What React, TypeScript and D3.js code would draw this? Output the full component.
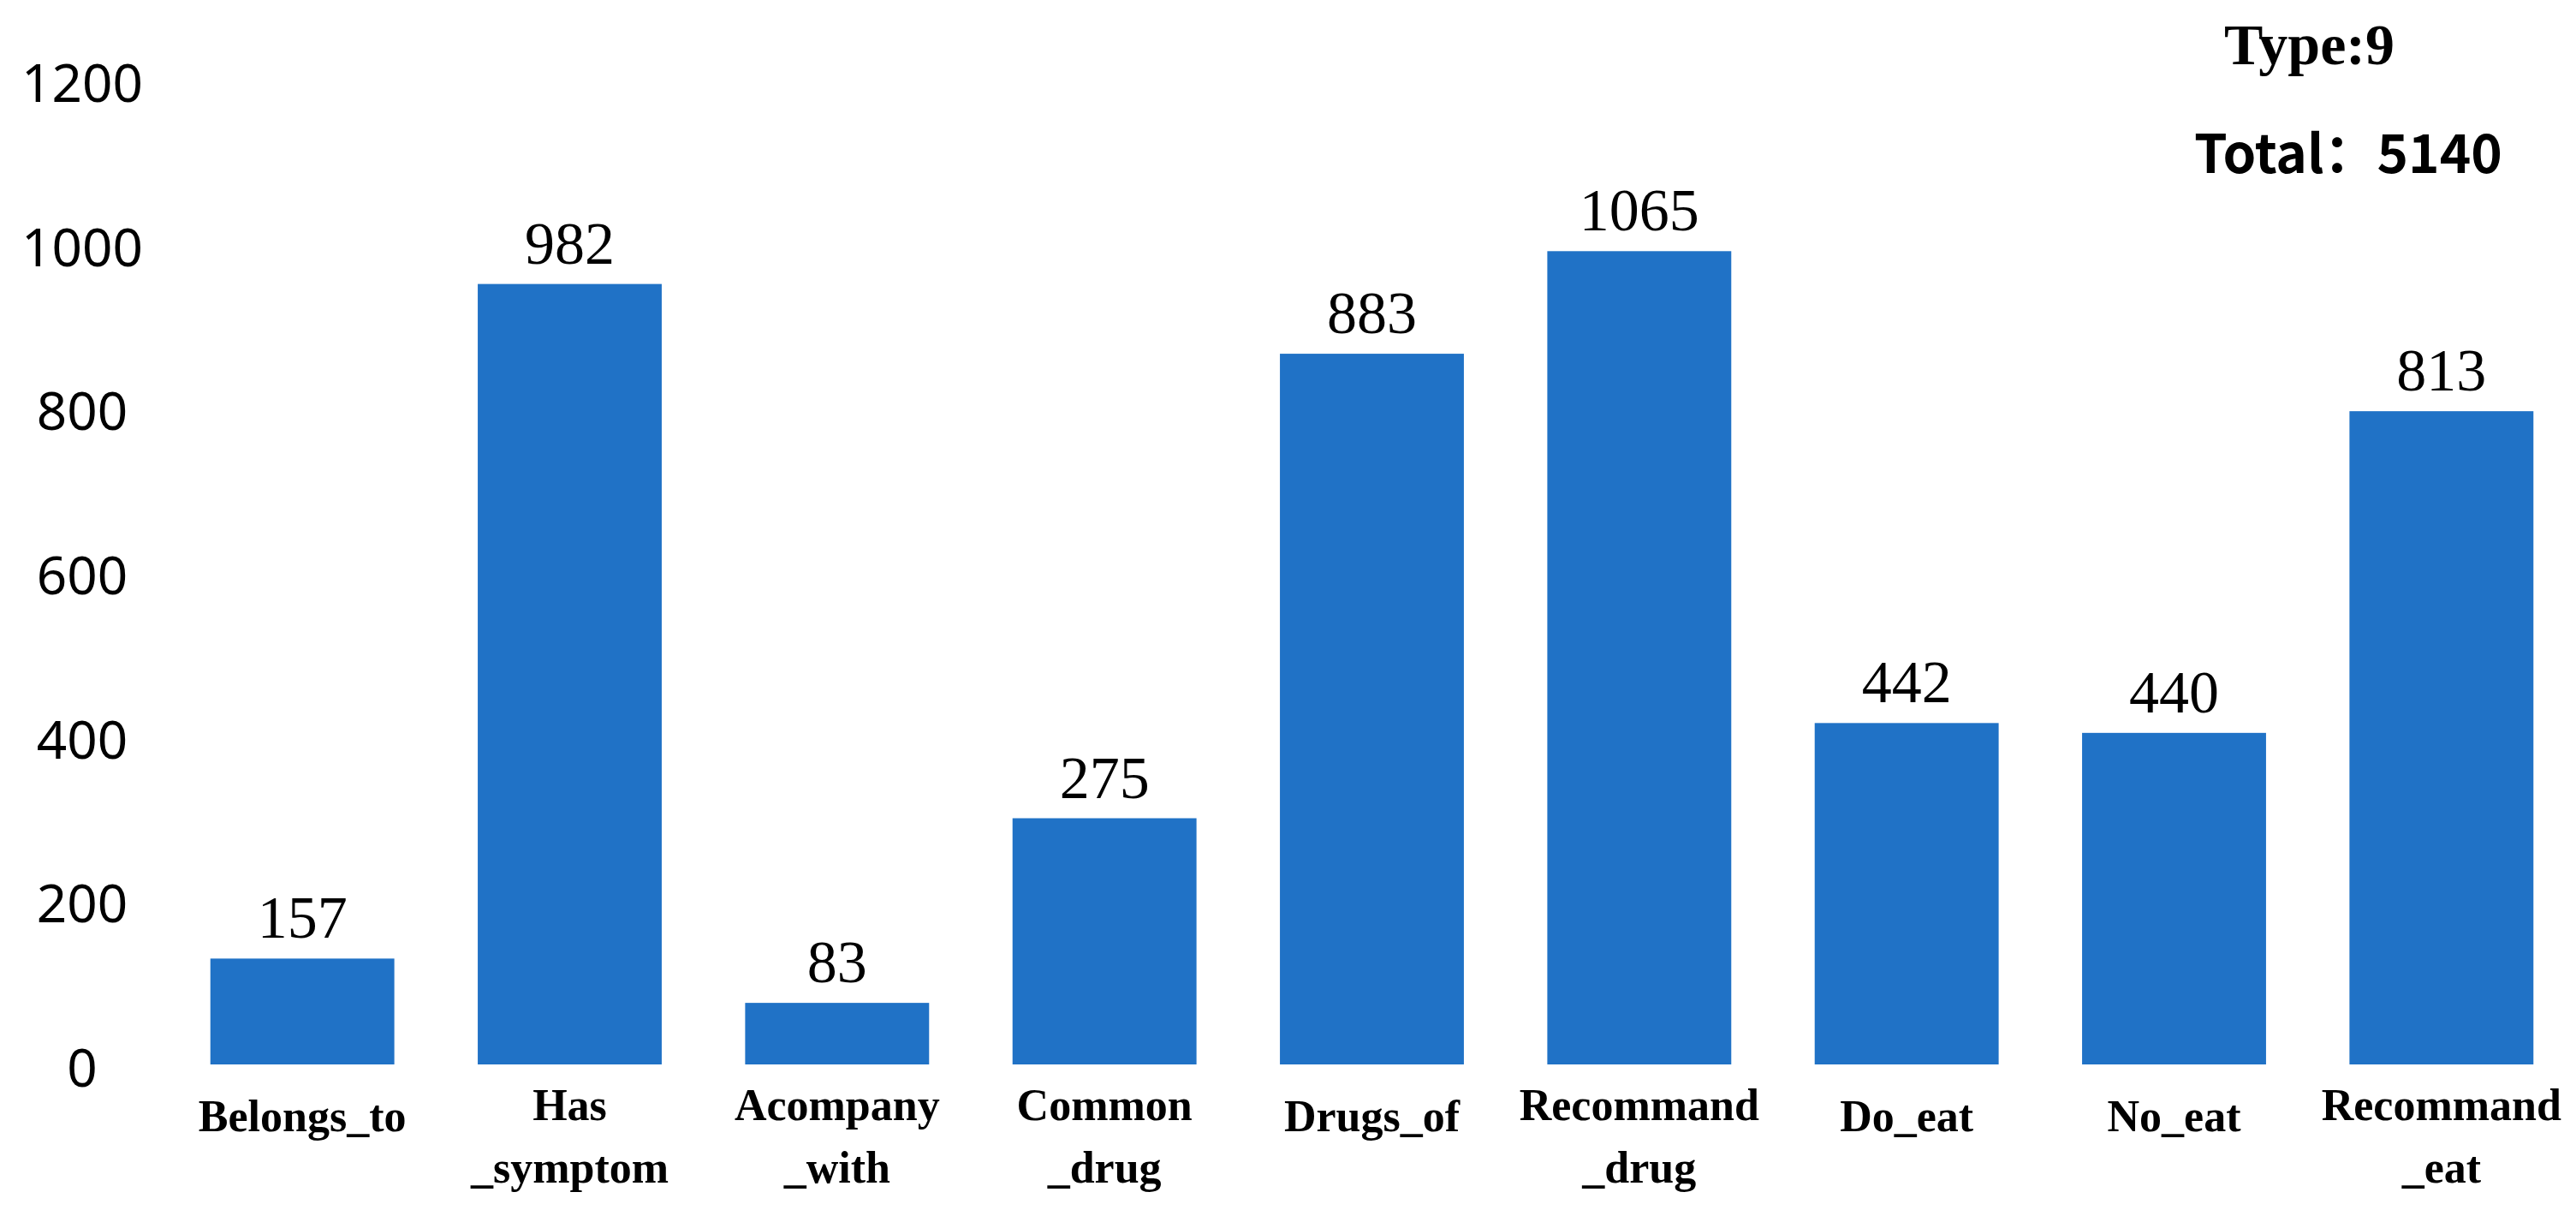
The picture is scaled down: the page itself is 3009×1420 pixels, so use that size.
import React, { useEffect } from "react";
import * as d3 from "d3";

// Categories (two-line labels split with "\n")
const categories = [
  "Belongs_to",
  "Has\n_symptom",
  "Acompany\n_with",
  "Common\n_drug",
  "Drugs_of",
  "Recommand\n_drug",
  "Do_eat",
  "No_eat",
  "Recommand\n_eat",
];
// Bar heights as drawn in the picture (axis units)
const barValues = [129, 951, 75, 300, 866, 991, 416, 404, 796];
// Value labels printed above the bars
const labelValues = [157, 982, 83, 275, 883, 1065, 442, 440, 813];
const yTicks = [0, 200, 400, 600, 800, 1000, 1200];
const typeText = "Type:9";
const totalText = "Total\uFF1A5140";

const W = 3009;
const H = 1420;

export default function App() {
  useEffect(() => {
    document.body.style.margin = "0";
  }, []);

  const x = d3
    .scaleBand<string>()
    .domain(categories)
    .range([197, 3008])
    .paddingInner(0.312)
    .paddingOuter(0.156);
  const y = d3.scaleLinear().domain([0, 1200]).range([1243, 93]);

  const blue = "#2072C6";

  return (
    <svg width={W} height={H} style={{ display: "block", background: "#fff" }}>
      <rect x={0} y={0} width={W} height={H} fill="#fff" />
      {/* y tick labels */}
      {yTicks.map((t) => (
        <text
          key={t}
          x={96}
          y={y(t) + 2}
          textAnchor="middle"
          dominantBaseline="central"
          fontFamily="'Noto Sans', 'Open Sans', sans-serif"
          fontSize={62}
          fill="#000"
        >
          {t}
        </text>
      ))}
      {/* bars */}
      {categories.map((c, i) => (
        <rect
          key={c}
          x={x(c)}
          y={y(barValues[i])}
          width={x.bandwidth()}
          height={y(0) - y(barValues[i])}
          fill={blue}
        />
      ))}
      {/* value labels */}
      {categories.map((c, i) => (
        <text
          key={"v" + c}
          x={(x(c) as number) + x.bandwidth() / 2}
          y={y(barValues[i]) - 24}
          textAnchor="middle"
          fontFamily="'Liberation Serif', 'Times New Roman', serif"
          fontSize={70}
          fill="#000"
        >
          {labelValues[i]}
        </text>
      ))}
      {/* category labels */}
      {categories.map((c) => {
        const lines = c.split("\n");
        const cx = (x(c) as number) + x.bandwidth() / 2;
        return (
          <text
            key={"c" + c}
            textAnchor="middle"
            fontFamily="'Liberation Serif', 'Times New Roman', serif"
            fontWeight="bold"
            fontSize={52}
            fill="#000"
          >
            {lines.length === 1 ? (
              <tspan x={cx} y={1321}>
                {lines[0]}
              </tspan>
            ) : (
              lines.map((l, k) => (
                <tspan key={k} x={cx} y={1308 + k * 73}>
                  {l}
                </tspan>
              ))
            )}
          </text>
        );
      })}
      {/* annotations */}
      <text
        x={2598}
        y={75}
        fontFamily="'Liberation Serif', 'Times New Roman', serif"
        fontWeight="bold"
        fontSize={68}
        fill="#000"
      >
        {typeText}
      </text>
      <text
        x={2563}
        y={202}
        fontFamily="'Noto Sans CJK SC', 'Noto Sans', sans-serif"
        fontWeight="bold"
        fontSize={62}
        fill="#000"
      >
        {totalText}
      </text>
    </svg>
  );
}
